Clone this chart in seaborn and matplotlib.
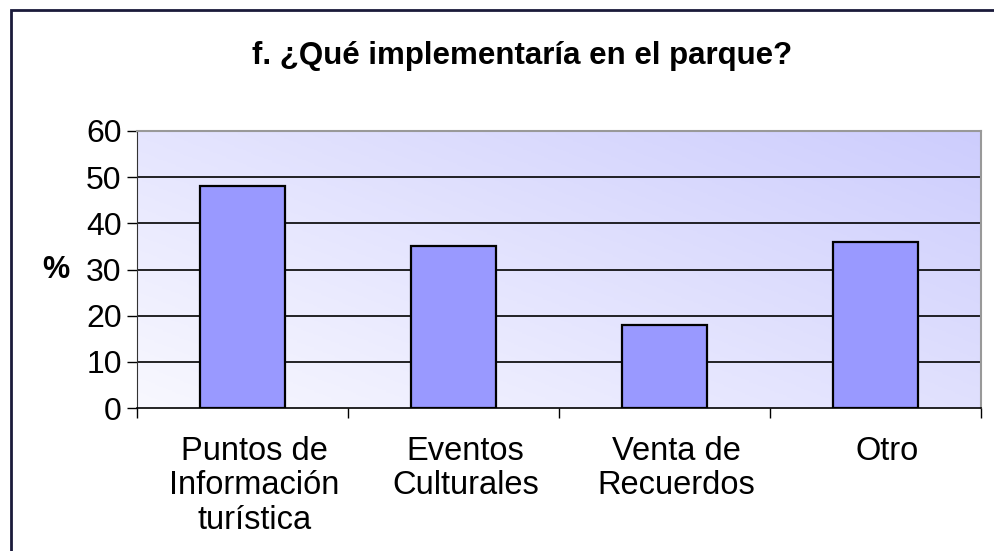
import numpy as np
import pandas as pd
import seaborn as sns
import matplotlib.pyplot as plt
import matplotlib.transforms as mtransforms
from matplotlib.colors import LinearSegmentedColormap
from matplotlib.patches import Rectangle

# Data
categorias = ["Puntos de\nInformación\nturística", "Eventos\nCulturales", "Venta de\nRecuerdos", "Otro"]
porcentajes = [48, 35, 18, 36]
titulo = "f. ¿Qué implementaría en el parque?"
y_ticks = [0, 10, 20, 30, 40, 50, 60]

df = pd.DataFrame({"categoria": categorias, "porcentaje": porcentajes})

sns.set_style("white")
plt.rcParams["font.family"] = ["Liberation Sans", "DejaVu Sans"]
plt.rcParams["text.color"] = "black"
plt.rcParams["xtick.color"] = "black"
plt.rcParams["ytick.color"] = "black"
plt.rcParams["axes.labelcolor"] = "black"

fig = plt.figure(figsize=(9.94, 5.51), dpi=100)
ax = fig.add_axes([137 / 994, 1 - 408 / 551, 844 / 994, 277 / 551])

# diagonal gradient background (light bottom-left to lavender top-right)
cmap = LinearSegmentedColormap.from_list("bg", ["#f8f8ff", "#cdcdfd"])
gx, gy = np.meshgrid(np.linspace(0, 1, 200), np.linspace(0, 1, 200))
grad = 0.55 * gx + 0.45 * gy
ax.imshow(grad, cmap=cmap, origin="lower", extent=[0, 1, 0, 1],
          transform=ax.transAxes, aspect="auto", zorder=0)

sns.barplot(data=df, x="categoria", y="porcentaje", color="#9999ff",
            saturation=1, width=0.4, edgecolor="black", linewidth=1.6,
            ax=ax, zorder=3)

ax.set_xlim(-0.5, 3.5)
ax.set_ylim(0, 60)
ax.set_yticks(y_ticks)
ax.set_yticklabels([str(v) for v in y_ticks], fontsize=23)
for v in y_ticks[1:-1]:
    ax.axhline(v, color="black", linewidth=1.2, zorder=1)

# category ticks between bars, labels centered under bars
ax.set_xticks([-0.5, 0.5, 1.5, 2.5, 3.5])
ax.set_xticklabels([])
ax.set_xticks(range(len(categorias)), minor=True)
ax.set_xticklabels(categorias, minor=True, fontsize=23.5, linespacing=1.15)
ax.tick_params(axis="x", which="major", length=7, width=1, direction="out", bottom=True)
ax.tick_params(axis="x", which="minor", length=0, pad=20)
ax.tick_params(axis="y", length=7, width=1, direction="out", left=True, pad=4)

# labels sit a little right of the bar centres in the original
shift = mtransforms.ScaledTranslation(12 / 100, 0, fig.dpi_scale_trans)
for lbl in ax.get_xticklabels(minor=True):
    lbl.set_transform(lbl.get_transform() + shift)

ax.set_xlabel("")
ax.set_ylabel("%", fontsize=22, fontweight="bold", rotation=0, labelpad=22, va="center")

for side in ["top", "right"]:
    ax.spines[side].set_color("#999999")
    ax.spines[side].set_linewidth(1.5)
ax.spines["left"].set_color("#333333")
ax.spines["bottom"].set_color("black")
ax.spines["bottom"].set_linewidth(1.2)

fig.text(522 / 994, 1 - 56 / 551, titulo, fontsize=22.5, fontweight="bold",
         ha="center", va="center")

# outer chart frame
fig.patches.append(Rectangle((11 / 994, -0.05), 1.1, 1 - 10 / 551 + 0.05,
                             transform=fig.transFigure, fill=False,
                             edgecolor="#1a1a3a", linewidth=2))

plt.savefig("out.png", dpi=100)
plt.close()
